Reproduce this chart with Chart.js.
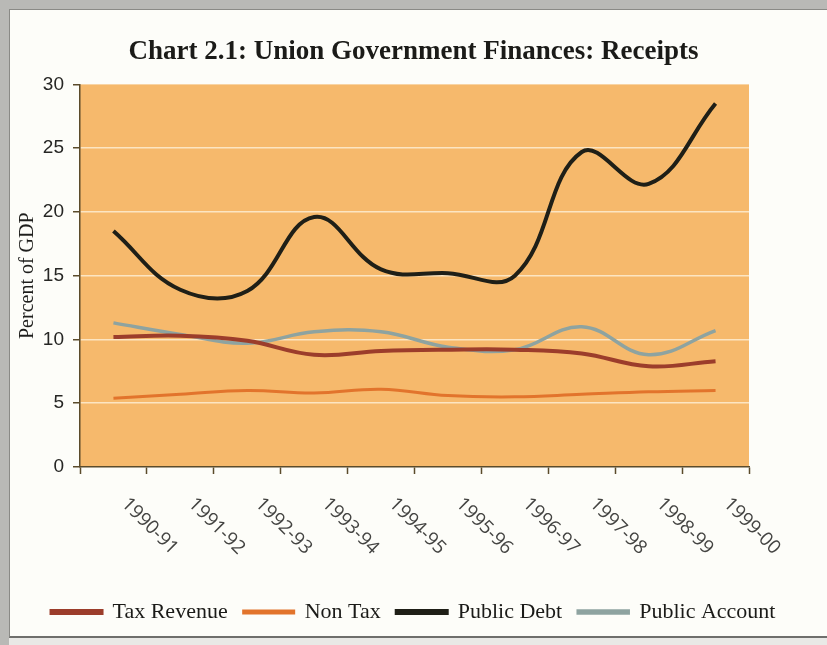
<!DOCTYPE html>
<html>
<head>
<meta charset="utf-8">
<title>Union Government Finances: Receipts</title>
<script src="https://cdn.jsdelivr.net/npm/chart.js@4/dist/chart.umd.min.js"></script>
<style>
  html, body { margin: 0; padding: 0; }
  body { width: 827px; height: 645px; background: #b9b9b6; position: relative; overflow: hidden; }
  #sheet {
    position: absolute; left: 9px; top: 9px; width: 818px; height: 626px;
    background: #fdfdf9;
    border-left: 1px solid #8a8a86; border-top: 1px solid #8a8a86; border-bottom: 2px solid #6f6f6c;
  }
  #below { position: absolute; left: 9px; top: 638px; width: 818px; height: 7px; background: #e9e9e6; }
  #myChart { position: absolute; left: 0; top: 0; }
</style>
</head>
<body>
<div id="sheet"></div>
<div id="below"></div>
<canvas id="myChart" width="827" height="645"></canvas>
<script>
// años fiscales
const labels = ['1990-91', '1991-92', '1992-93', '1993-94', '1994-95',
                '1995-96', '1996-97', '1997-98', '1998-99', '1999-00'];

// % del PIB
const taxRevenue    = [10.2, 10.3, 9.9, 8.8, 9.1, 9.2, 9.2, 8.9, 7.9, 8.3];
const nonTax        = [5.4, 5.7, 6.0, 5.8, 6.1, 5.6, 5.5, 5.7, 5.9, 6.0];
const publicDebt    = [18.5, 13.9, 13.8, 19.6, 15.5, 15.2, 15.0, 24.7, 22.2, 28.5];
const publicAccount = [11.3, 10.4, 9.7, 10.6, 10.6, 9.4, 9.2, 11.0, 8.8, 10.7];

const yTicks = [0, 5, 10, 15, 20, 25, 30];

// fondo naranja del area de trazado
const plotBg = {
  id: 'plotBg',
  beforeDraw(chart) {
    const { ctx, chartArea: a } = chart;
    ctx.save();
    ctx.fillStyle = '#f6b96c';
    ctx.fillRect(a.left, a.top, a.right - a.left, a.bottom - a.top);
    ctx.restore();
  }
};

// etiquetas del eje x inclinadas hacia abajo
const slantedLabels = {
  id: 'slantedLabels',
  afterDraw(chart) {
    const { ctx } = chart;
    const x = chart.scales.x;
    ctx.save();
    ctx.font = '19px "Open Sans", "DejaVu Sans", sans-serif';
    ctx.fillStyle = '#444442';
    ctx.textAlign = 'left';
    ctx.textBaseline = 'middle';
    labels.forEach((lab, i) => {
      ctx.save();
      ctx.translate(x.getPixelForValue(i) + 11, x.top + 34);
      ctx.rotate(Math.PI / 4);
      ctx.fillText(lab, 0, 0);
      ctx.restore();
    });
    ctx.restore();
  }
};

const ctx = document.getElementById('myChart');

const line = (label, data, color, width) => ({
  label, data,
  borderColor: color,
  backgroundColor: color,
  borderWidth: width,
  pointRadius: 0,
  tension: 0.4,
  fill: false
});

new Chart(ctx, {
  type: 'line',
  data: {
    labels: labels,
    datasets: [
      line('Tax Revenue', taxRevenue, '#9c3d2b', 4),
      line('Non Tax', nonTax, '#e2742c', 3),
      line('Public Debt', publicDebt, '#1f1f17', 4),
      line('Public Account', publicAccount, '#8ea3a0', 3.5)
    ]
  },
  options: {
    responsive: false,
    animation: false,
    devicePixelRatio: 1,
    layout: { padding: { left: 10, right: 10, top: 10, bottom: 12 } },
    plugins: {
      tooltip: { enabled: false },
      title: {
        display: true,
        text: 'Chart 2.1: Union Government Finances: Receipts',
        color: '#1b1b18',
        font: { family: '"Liberation Serif", serif', size: 27, weight: 'bold', lineHeight: 1.2 },
        padding: { top: 26, bottom: 16 }
      },
      legend: {
        position: 'bottom',
        labels: {
          color: '#1b1b18',
          font: { family: '"Liberation Serif", serif', size: 22 },
          boxWidth: 50,
          boxHeight: 2,
          padding: 16
        }
      }
    },
    scales: {
      x: {
        offset: true,
        grid: {
          offset: true,
          drawOnChartArea: false,
          drawTicks: true,
          tickLength: 7,
          tickColor: '#5b4b2b',
          tickWidth: 1.5
        },
        border: { color: '#5b4b2b', width: 1.5 },
        ticks: { display: false },
        afterFit: s => { s.height = 118; }
      },
      y: {
        min: 0,
        max: 30,
        afterBuildTicks: s => { s.ticks = yTicks.map(v => ({ value: v })); },
        grid: {
          color: c => (c.tick.value === 0 || c.tick.value === 30) ? 'rgba(0,0,0,0)' : '#fce5c2',
          lineWidth: 1.5,
          tickLength: 7,
          tickColor: '#5b4b2b',
          tickWidth: 1.5
        },
        border: { color: '#5b4b2b', width: 1.5 },
        ticks: {
          color: '#262624',
          padding: 9,
          font: { family: '"Liberation Sans", Arial, sans-serif', size: 19 }
        },
        title: {
          display: true,
          text: 'Percent of GDP',
          color: '#1e1e1c',
          padding: { top: 6, bottom: 0 },
          font: { family: '"Liberation Serif", serif', size: 20 }
        },
        afterFit: s => { s.width = 70; }
      },
      y2: {
        position: 'right',
        grid: { display: false },
        border: { display: false },
        ticks: { display: false },
        afterFit: s => { s.width = 68; }
      }
    }
  },
  plugins: [plotBg, slantedLabels]
});
</script>
</body>
</html>
